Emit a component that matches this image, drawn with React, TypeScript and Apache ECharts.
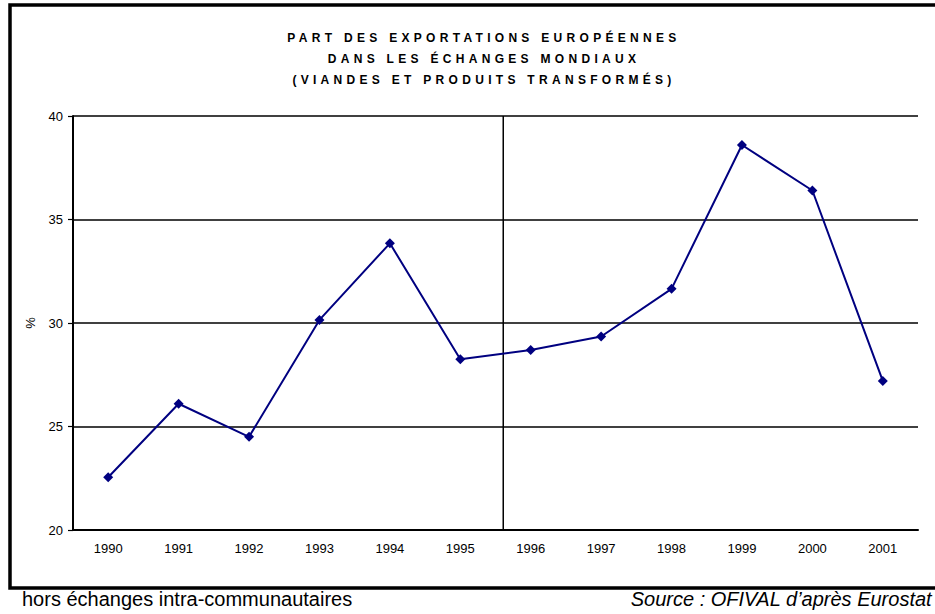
import React, { useEffect, useRef } from "react";
import * as echarts from "echarts";

const years = ["1990", "1991", "1992", "1993", "1994", "1995", "1996", "1997", "1998", "1999", "2000", "2001"];
const shares = [22.55, 26.1, 24.5, 30.15, 33.85, 28.25, 28.7, 29.35, 31.65, 38.6, 36.4, 27.2];
const yTicks = [20, 25, 30, 35, 40];
const dividerAt = [6.11];
const titleLines = [
  "PART DES EXPORTATIONS EUROPÉENNES",
  "DANS LES ÉCHANGES MONDIAUX",
  "(VIANDES ET PRODUITS TRANSFORMÉS)",
];
const footLeft = "hors échanges intra-communautaires";
const footRight = "Source : OFIVAL d’après Eurostat";

export default function App() {
  const ref = useRef<HTMLDivElement>(null);
  useEffect(() => {
    if (!ref.current) return;
    const chart = echarts.init(ref.current, null, { renderer: "svg" });
    const font = "Liberation Sans, Arial, sans-serif";
    chart.setOption({
      animation: false,
      backgroundColor: "#ffffff",
      title: {
        text: titleLines.join("\n"),
        left: 479,
        textAlign: "center",
        top: 22,
        textStyle: {
          fontFamily: "Liberation Sans, Arial, TitleSpaced, sans-serif",
          fontSize: 12,
          fontWeight: "bold",
          color: "#000",
          lineHeight: 21,
        },
      },
      graphic: [
        {
          type: "rect",
          shape: { x: 10, y: 5, width: 940, height: 583 },
          style: { fill: "none", stroke: "#000", lineWidth: 3.5 },
          z: 10,
        },
        {
          type: "text",
          left: 22,
          top: 589,
          style: { text: footLeft, font: `20px ${font}`, fill: "#000" },
        },
        {
          type: "text",
          right: 3,
          top: 589,
          style: { text: footRight, font: `italic 20px ${font}`, fill: "#000" },
        },
      ],
      grid: { left: 73, right: 17, top: 116, bottom: 84, containLabel: false },
      xAxis: [
        {
          type: "category",
          data: years,
          boundaryGap: true,
          axisLine: { show: true, lineStyle: { color: "#000", width: 2 } },
          axisTick: { show: false },
          axisLabel: { fontFamily: font, fontSize: 13, color: "#000", margin: 12 },
          splitLine: { show: false },
        },
        {
          type: "value",
          min: 0,
          max: 12,
          show: false,
        },
      ],
      yAxis: {
        type: "value",
        min: yTicks[0],
        max: yTicks[yTicks.length - 1],
        interval: 5,
        name: "%",
        nameLocation: "middle",
        nameRotate: 90,
        nameGap: 36,
        nameTextStyle: { fontFamily: font, fontSize: 13, color: "#000" },
        axisLine: { show: true, lineStyle: { color: "#000", width: 2 } },
        axisTick: { show: true, length: 5, lineStyle: { color: "#000", width: 1.2 } },
        axisLabel: { fontFamily: font, fontSize: 13, color: "#000", margin: 10 },
        splitLine: { show: true, lineStyle: { color: "#000", width: 1.5 } },
      },
      series: [
        {
          type: "line",
          xAxisIndex: 1,
          data: [
            [dividerAt[0], yTicks[0]],
            [dividerAt[0], yTicks[yTicks.length - 1]],
          ],
          symbol: "none",
          lineStyle: { color: "#000", width: 1.5 },
          silent: true,
        },
        {
          type: "line",
          data: shares,
          symbol: "diamond",
          symbolSize: 10,
          itemStyle: { color: "#000080" },
          lineStyle: { color: "#000080", width: 2 },
          z: 5,
        },
      ],
    });
    return () => chart.dispose();
  }, []);
  return (
    <>
      <style>{`text[style*="TitleSpaced"]{letter-spacing:4.3px}`}</style>
      <div ref={ref} style={{ position: "fixed", left: 0, top: 0, width: 935, height: 614 }} />
    </>
  );
}
